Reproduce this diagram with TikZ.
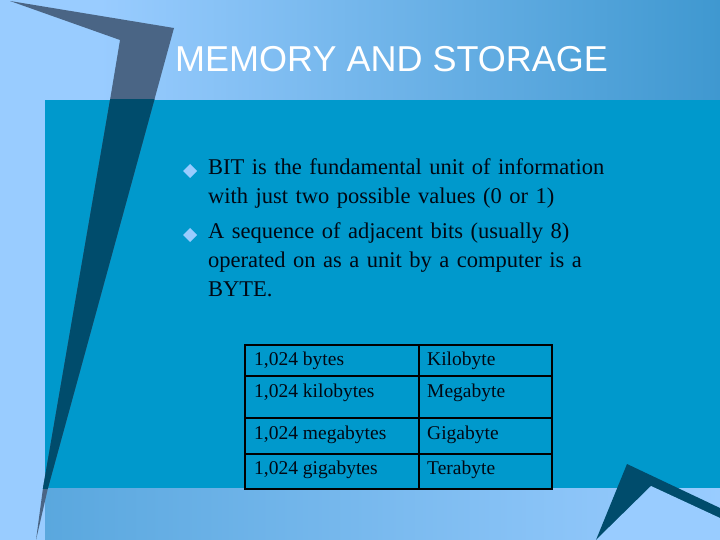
\documentclass[tikz,border=0pt]{standalone}
\usepackage{fontspec}
\setmainfont{Liberation Serif}
\newfontfamily\titlefont{Liberation Sans}
\definecolor{lightbg}{HTML}{99CCFF}
\definecolor{midbg}{HTML}{3F98D0}
\definecolor{mainbox}{HTML}{0099CC}
\definecolor{slate}{HTML}{4A6585}
\definecolor{darkteal}{HTML}{004C6C}
\definecolor{txt}{HTML}{000814}
\tikzset{cell/.style={anchor=west,font=\fontsize{19.5}{21}\selectfont,text=txt,inner sep=0pt},
bul/.style={font=\fontsize{22.5}{29}\selectfont,text=txt,anchor=north west,inner sep=0pt,align=left,text width=440pt}}
\begin{document}
\begin{tikzpicture}[x=1pt,y=-1pt]
\useasboundingbox (0,0) rectangle (720,540);
\fill[lightbg] (0,0) rectangle (720,540);
\fill[left color=lightbg,right color=midbg] (100,0) rectangle (720,100);
\fill[left color=midbg!70!lightbg,right color=lightbg] (45,488) rectangle (720,540);
\fill[mainbox] (45,100) rectangle (720,488);
\fill[slate] (10,1) -- (174,28) -- (48,488) -- (36,540) -- (43,488) -- (110,100) -- (120,40) -- cycle;
\begin{scope}
\clip (0,100) rectangle (720,488);
\fill[darkteal] (10,1) -- (174,28) -- (48,488) -- (36,540) -- (43,488) -- (110,100) -- (120,40) -- cycle;
\end{scope}
\fill[darkteal] (596,540) -- (627,464) -- (720,508) -- (720,540) -- cycle;
\fill[lightbg] (596,540) -- (651,486) -- (720,518) -- (720,540) -- cycle;
\node[anchor=base west,font=\titlefont\fontsize{36}{38}\selectfont,text=white,inner sep=0pt] (title) at (175,72) {MEMORY AND STORAGE};
\fill[lightbg] (190,164) -- (197,171) -- (190,178) -- (183,171) -- cycle;
\fill[lightbg] (190,228) -- (197,235) -- (190,242) -- (183,235) -- cycle;
\node[bul] (b1) at (208,158) {BIT is the fundamental unit of information\\with just two possible values (0 or 1)};
\node[bul] (b2) at (208,222) {A sequence of adjacent bits (usually 8)\\operated on as a unit by a computer is a\\BYTE.};
\draw[line width=2pt,black] (245,345) rectangle (552,489);
\draw[line width=2pt,black] (419,345) -- (419,489);
\foreach \y in {376,418,454} \draw[line width=2pt,black] (245,\y) -- (552,\y);
\node[cell] (a1) at (254,361) {1,024 bytes};
\node[cell] (c1) at (427,361) {Kilobyte};
\node[cell] (a2) at (254,393) {1,024 kilobytes};
\node[cell] (c2) at (427,393) {Megabyte};
\node[cell] (a3) at (254,435) {1,024 megabytes};
\node[cell] (c3) at (427,435) {Gigabyte};
\node[cell] (a4) at (254,470) {1,024 gigabytes};
\node[cell] (c4) at (427,470) {Terabyte};
\end{tikzpicture}
\end{document}
